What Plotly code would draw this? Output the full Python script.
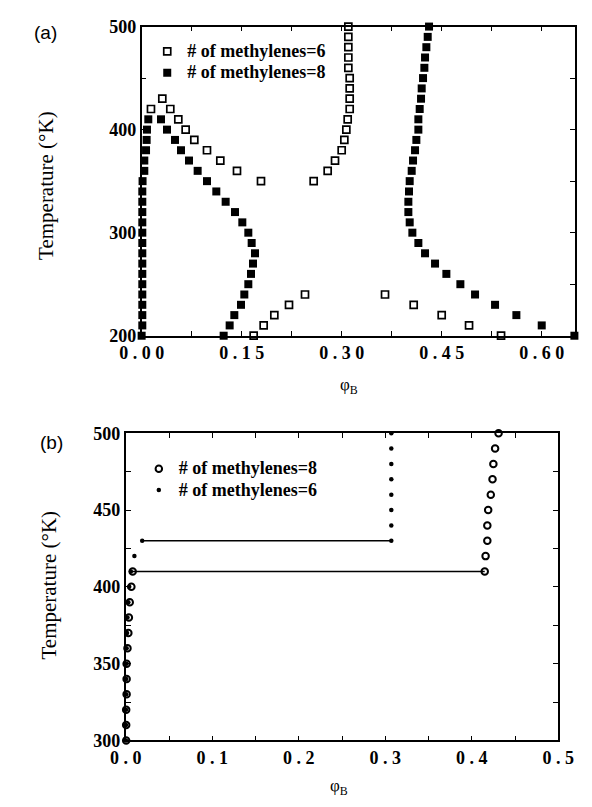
import plotly.graph_objects as go

# ---------------- Panel (a) data ----------------
# number of methylenes = 6 (open squares)
a6_T = [430, 420, 420, 410, 400, 390, 380, 370, 360, 350,
        500, 490, 480, 470, 460, 450, 440, 430, 420, 410, 400, 390, 380, 370, 360, 350,
        240, 230, 220, 210, 200,
        240, 230, 220, 210, 200]
a6_phi = [0.031, 0.014, 0.043, 0.055, 0.066, 0.079, 0.098, 0.118, 0.143, 0.179,
          0.310, 0.310, 0.310, 0.310, 0.310, 0.312, 0.312, 0.312, 0.312, 0.309, 0.307, 0.304, 0.300, 0.290, 0.279, 0.258,
          0.245, 0.221, 0.199, 0.183, 0.168,
          0.365, 0.408, 0.450, 0.491, 0.539]

# number of methylenes = 8 (filled squares)
a8_T = [410, 400, 390, 380, 370, 360, 350, 340, 330, 320, 310, 300, 290, 280, 270, 260, 250, 240, 230, 220, 210, 200,
        410, 400, 390, 380, 370, 360, 350, 340, 330, 320, 310, 300, 290, 280, 270, 260, 250, 240, 230, 220, 210, 200,
        500, 490, 480, 470, 460, 450, 440, 430, 420, 410, 400, 390, 380, 370, 360, 350, 340, 330, 320, 310,
        300, 290, 280, 270, 260, 250, 240, 230, 220, 210, 200]
a8_phi = [0.010, 0.008, 0.0075, 0.0066, 0.004, 0.004, 0.0014, 0.001, 0.001, 0.001, 0.001, 0.001, 0.001, 0.001,
          0.001, 0.001, 0.001, 0.001, 0.001, 0.001, 0.001, 0.000,
          0.029, 0.038, 0.050, 0.059, 0.071, 0.084, 0.098, 0.112, 0.126, 0.140, 0.151, 0.160, 0.165, 0.170,
          0.167, 0.164, 0.160, 0.154, 0.149, 0.139, 0.132, 0.123,
          0.431, 0.429, 0.427, 0.425, 0.424, 0.422, 0.420, 0.419, 0.417, 0.415, 0.415, 0.412, 0.410, 0.407,
          0.405, 0.402, 0.401, 0.400, 0.400, 0.402,
          0.406, 0.415, 0.425, 0.440, 0.457, 0.478, 0.500, 0.530, 0.562, 0.600, 0.649]

# ---------------- Panel (b) data ----------------
# number of methylenes = 8 (open circles)
b8_T = [300, 310, 320, 330, 340, 350, 360, 370, 380, 390, 400, 410,
        410, 420, 430, 440, 450, 460, 470, 480, 490, 500]
b8_phi = [0.0005, 0.0005, 0.0005, 0.001, 0.001, 0.001, 0.002, 0.003, 0.0036, 0.0046, 0.0065, 0.008,
          0.415, 0.416, 0.418, 0.418, 0.419, 0.422, 0.424, 0.425, 0.427, 0.431]

# number of methylenes = 6 (small dots)
b6_T = [300, 310, 320, 330, 340, 350, 360, 370, 380, 390, 400, 410, 420, 430,
        430, 440, 450, 460, 470, 480, 490, 500]
b6_phi = [0.0003, 0.0003, 0.0003, 0.0005, 0.0005, 0.0008, 0.001, 0.0015, 0.002, 0.003, 0.004, 0.006, 0.010, 0.019,
          0.307, 0.307, 0.307, 0.307, 0.307, 0.307, 0.307, 0.307]

# tie lines (b): temperature of the coexisting pair for each series
tie_b8_T = 410
tie_b6_T = 430

# ticks
a_xticks = [0.0, 0.075, 0.15, 0.225, 0.30, 0.375, 0.45, 0.525, 0.60]
a_xlabels = ["0 . 0 0", "", "0 . 1 5", "", "0 . 3 0", "", "0 . 4 5", "", "0 . 6 0"]
a_yticks = [200, 250, 300, 350, 400, 450, 500]
a_ylabels = ["200", "", "300", "", "400", "", "500"]
b_xticks = [0.0, 0.05, 0.1, 0.15, 0.2, 0.25, 0.3, 0.35, 0.4, 0.45, 0.5]
b_xlabels = ["0 . 0", "", "0 . 1", "", "0 . 2", "", "0 . 3", "", "0 . 4", "", "0 . 5"]
b_yticks = [300, 325, 350, 375, 400, 425, 450, 475, 500]
b_ylabels = ["300", "", "350", "", "400", "", "450", "", "500"]

W, H = 592, 807
def px(x): return x / W
def py(y): return 1 - y / H

SERIF = "'Liberation Serif', 'Times New Roman', Times, serif"
SANS = "'Liberation Sans', Arial, Helvetica, sans-serif"

def lname(s):
    return "<span style='font-size:18px'><b>" + s + "</b></span>"

fig = go.Figure()

# Panel (a)
fig.add_trace(go.Scatter(x=a6_phi, y=a6_T, mode="markers", name=lname("# of methylenes=6"),
                         marker=dict(symbol="square-open", size=7, color="black", line=dict(width=1.7, color="black")),
                         xaxis="x", yaxis="y", legend="legend", cliponaxis=False))
fig.add_trace(go.Scatter(x=a8_phi, y=a8_T, mode="markers", name=lname("# of methylenes=8"),
                         marker=dict(symbol="square", size=8, color="black"),
                         xaxis="x", yaxis="y", legend="legend", cliponaxis=False))

# Panel (b) tie lines
def tie(phis, Ts, t):
    vals = [p for p, tt in zip(phis, Ts) if tt == t]
    return [min(vals), max(vals)], [t, t]

tx8, ty8 = tie(b8_phi, b8_T, tie_b8_T)
tx6, ty6 = tie(b6_phi, b6_T, tie_b6_T)
fig.add_trace(go.Scatter(x=tx8 + [None] + tx6, y=ty8 + [None] + ty6, mode="lines",
                         line=dict(color="black", width=1.4), showlegend=False,
                         xaxis="x2", yaxis="y2", cliponaxis=False, hoverinfo="skip"))
fig.add_trace(go.Scatter(x=b8_phi, y=b8_T, mode="markers", name=lname("# of methylenes=8"),
                         marker=dict(symbol="circle-open", size=6.5, color="black", line=dict(width=2, color="black")),
                         xaxis="x2", yaxis="y2", legend="legend2", cliponaxis=False))
fig.add_trace(go.Scatter(x=b6_phi, y=b6_T, mode="markers", name=lname("# of methylenes=6"),
                         marker=dict(symbol="circle", size=4.5, color="black"),
                         xaxis="x2", yaxis="y2", legend="legend2", cliponaxis=False))

axis_common = dict(showgrid=False, zeroline=False, showline=True, linecolor="black", linewidth=1.6,
                   ticks="inside", ticklen=5, tickwidth=1.4, tickcolor="black", mirror="allticks",
                   tickfont=dict(family=SERIF, size=18, color="black", weight="bold"))

fig.update_layout(
    width=W, height=H, margin=dict(l=0, r=0, t=0, b=0),
    paper_bgcolor="white", plot_bgcolor="white",
    xaxis=dict(axis_common, domain=[px(127), px(591)], range=[0, 0.65], anchor="y",
               tickmode="array", tickvals=a_xticks, ticktext=a_xlabels),
    yaxis=dict(axis_common, domain=[py(334), py(17)], range=[200, 500], anchor="x",
               tickmode="array", tickvals=a_yticks, ticktext=a_ylabels),
    xaxis2=dict(axis_common, domain=[px(110), px(573)], range=[0, 0.5], anchor="y2",
                tickmode="array", tickvals=b_xticks, ticktext=b_xlabels),
    yaxis2=dict(axis_common, domain=[py(749), py(434)], range=[300, 500], anchor="x2",
                tickmode="array", tickvals=b_yticks, ticktext=b_ylabels),
    legend=dict(x=px(133), y=py(26.5), xanchor="left", yanchor="top", bgcolor="rgba(0,0,0,0)",
                font=dict(family=SERIF, size=14, color="black"), itemsizing="trace",
                tracegroupgap=0),
    legend2=dict(x=px(124), y=py(454.5), xanchor="left", yanchor="top", bgcolor="rgba(0,0,0,0)",
                 font=dict(family=SERIF, size=14, color="black"), itemsizing="trace",
                 tracegroupgap=0),
    showlegend=True,
)

def A(text, x, y, font, angle=0):
    return dict(text=text, x=px(x), y=py(y), xref="paper", yref="paper", showarrow=False,
                xanchor="center", yanchor="middle", textangle=angle, font=font)

ann = [
    A("(a)", 24, 23, dict(family=SANS, size=19, color="black")),
    A("(b)", 30, 443, dict(family=SANS, size=19, color="black")),
    A("Temperature (°K)", 24, 180, dict(family=SERIF, size=21, color="black"), -90),
    A("Temperature (°K)", 28, 590, dict(family=SERIF, size=21, color="black"), -90),
    A("φ<sub>B</sub>", 349, 386, dict(family=SERIF, size=17, color="black")),
    A("φ<sub>B</sub>", 338, 797, dict(family=SERIF, size=17, color="black")),
]
fig.update_layout(annotations=ann)

fig.write_html("out.html")
